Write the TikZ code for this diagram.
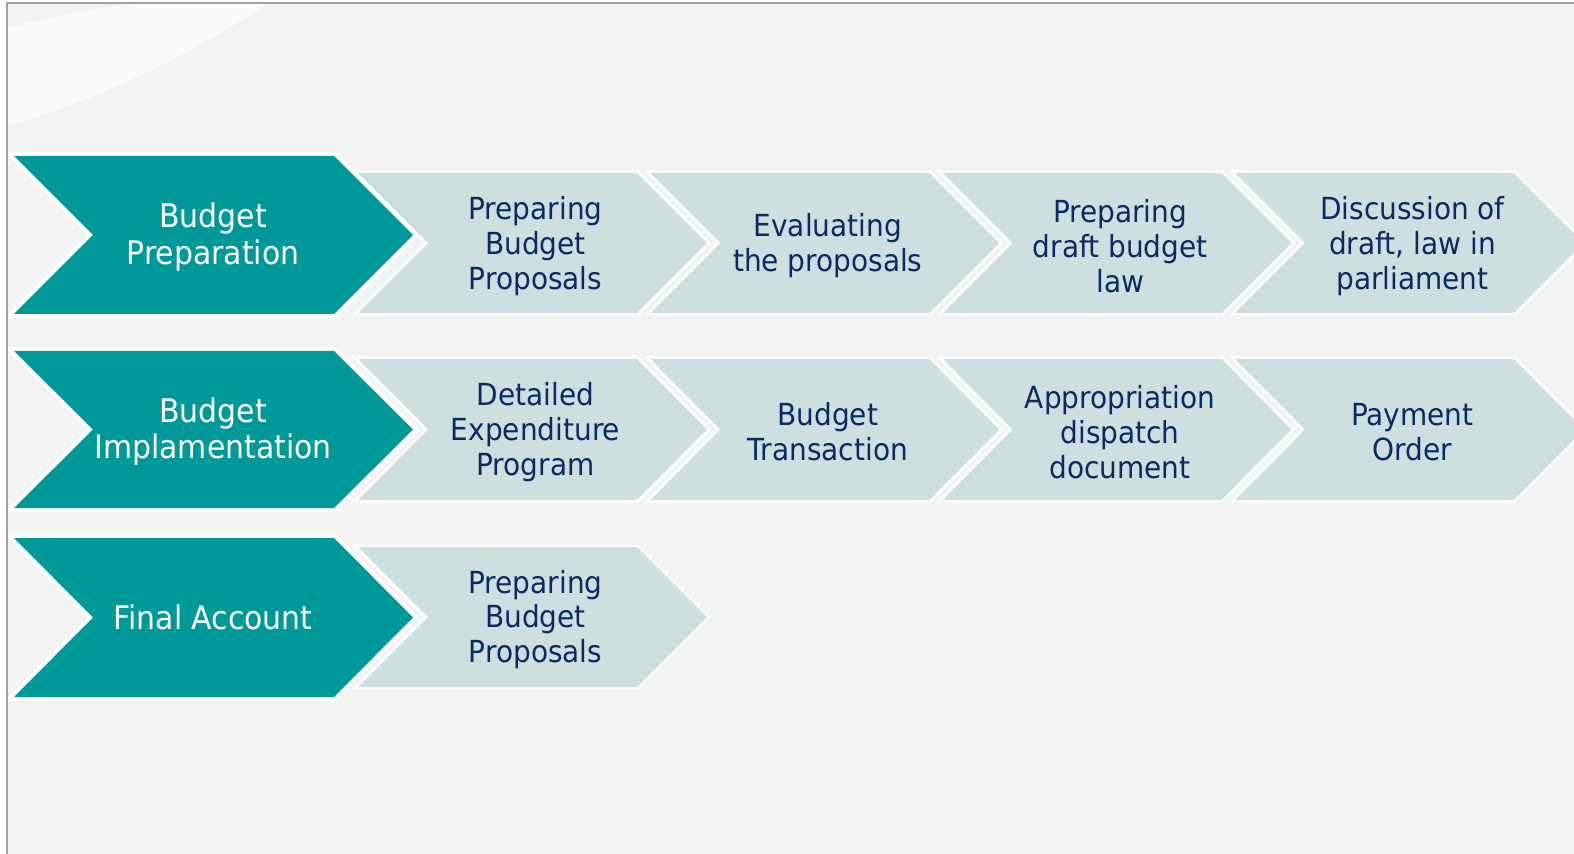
\documentclass[tikz,border=0pt]{standalone}
\usepackage{fontspec}
\setmainfont{DejaVu Sans}[FakeStretch=0.92]

\definecolor{tealfill}{RGB}{0,153,153}
\definecolor{palefill}{RGB}{206,223,223}
\definecolor{navytext}{RGB}{10,42,98}
\definecolor{paper}{RGB}{242,243,243}
\definecolor{slideframe}{RGB}{160,160,160}

\tikzset{
  bigchev/.style={fill=tealfill, preaction={draw=white, line width=0.16cm, line join=miter}},
  palechev/.style={fill=palefill, preaction={draw=white, line width=0.1cm, line join=miter}},
  headtext/.style={text=white, align=center, font=\fontsize{18.5}{21}\selectfont},
  steptext/.style={text=navytext, align=center, font=\fontsize{17.3}{19.8}\selectfont},
}

% chevron: style, left, top, bottom, width, point depth
\def\chevron#1#2#3#4#5#6{%
  \path[#1] (#2,#3) -- ({#2+#5-#6},#3) -- ({#2+#5},{(#3+#4)/2}) -- ({#2+#5-#6},#4)
    -- (#2,#4) -- ({#2+#6},{(#3+#4)/2}) -- cycle;}

\begin{document}
\begin{tikzpicture}[x=0.02cm, y=-0.02cm]
      \useasboundingbox (0,0) rectangle (1574,854);
      \clip (0,0) rectangle (1574,854);

      \pgfmathsetmacro{\step}{292.3}
      \pgfmathsetmacro{\left}{358}

      % slide background
      \fill[white] (0,0) rectangle (1574,854);
      \fill[paper] (7,3) rectangle (1574,854);
      \fill[white, opacity=0.7] (7,28) .. controls (60,15) and (110,5) .. (150,3) -- (268,3)
        .. controls (200,50) and (100,100) .. (7,126) -- cycle;

      % row 1
      \foreach \txt [count=\i from 0] in {{Preparing\\Budget\\Proposals}, {Evaluating\\the proposals},
          {Preparing\\draft budget\\law}, {Discussion of\\draft, law in\\parliament}} {
        \chevron{palechev}{\left+\i*\step}{173}{313}{349}{70}
        \node[steptext] (p\i) at ({\left+\i*\step+177.5}, 246) {\txt};
      }
      \chevron{bigchev}{14}{156}{314}{399}{79}
      \node[headtext] (prep) at (213, 237) {Budget\\Preparation};

      % row 2
      \foreach \txt [count=\i from 0] in {{Detailed\\Expenditure\\Program}, {Budget\\Transaction},
          {Appropriation\\dispatch\\document}, {Payment\\Order}} {
        \chevron{palechev}{\left+\i*\step}{359}{500}{349}{70}
        \node[steptext] (m\i) at ({\left+\i*\step+177.5}, 432) {\txt};
      }
      \chevron{bigchev}{14}{351}{508}{399}{79}
      \node[headtext] (impl) at (213, 431.5) {Budget\\Implamentation};

      % row 3
      \chevron{palechev}{\left}{547}{687}{349}{70}
      \node[steptext] (f0) at ({\left+177.5}, 619.5) {Preparing\\Budget\\Proposals};
      \chevron{bigchev}{14}{538}{697}{399}{79}
      \node[headtext] (final) at (213, 617.5) {Final Account};

      \draw[slideframe, line width=0.04cm] (7,854) -- (7,3) -- (1574,3);
\end{tikzpicture}
\end{document}
